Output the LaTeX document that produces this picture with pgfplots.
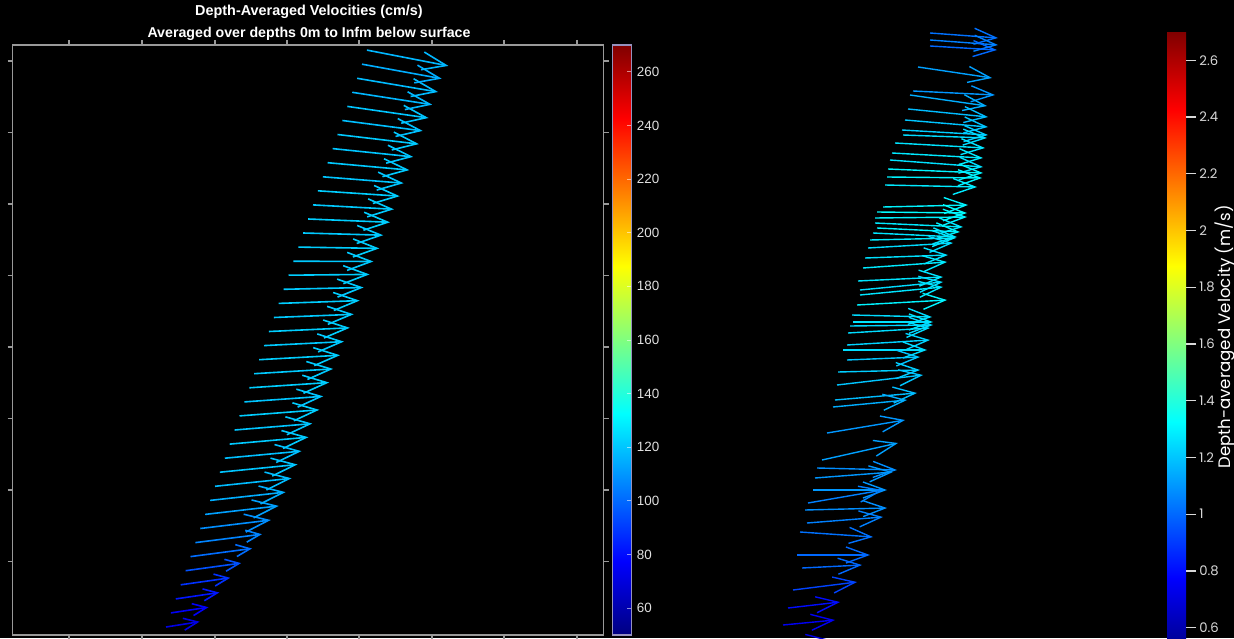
\documentclass[border=0pt]{standalone}
\usepackage{pgfplots}
\pgfplotsset{compat=1.18}
\usepackage{pgfplotstable}
\usetikzlibrary{arrows.meta}
\usepackage{fontspec}
\setmainfont{Liberation Sans}
\newfontfamily\poppins{Poppins}

% left panel: x y u v c (cm/s)
\pgfplotstableread{
x y u v c
152.0 7.0 33.6 5.3 72
156.9 21.1 37.6 5.7 76
161.8 35.1 43.5 6.4 82
166.7 49.2 49.5 7.0 88
171.6 63.3 55.5 7.6 95
176.5 77.4 61.5 8.1 101
181.4 91.4 66.5 8.4 106
}\leftlow
\pgfplotstableread{
x y u v c
186.3 105.5 70.5 8.5 108
191.2 119.6 73.5 8.5 112
196.1 133.6 75.5 8.3 115
201.0 147.7 76.6 8.0 118
205.9 161.8 77.6 7.7 120
210.8 175.8 76.7 7.1 119
215.7 189.9 78.7 6.9 121
220.6 204.0 77.7 6.4 120
225.5 218.1 79.8 6.1 122
230.4 232.1 78.8 5.6 120
235.3 246.2 79.8 5.3 122
240.2 260.3 78.9 4.8 121
245.1 274.3 80.9 4.5 122
250.0 288.4 79.9 4.0 121
254.9 302.5 80.9 3.7 122
259.8 316.5 79.9 3.2 121
264.7 330.6 81.0 2.8 122
269.6 344.7 80.0 1.8 121
274.5 358.8 81.0 0.8 122
279.4 372.8 80.0 -0.3 121
284.3 386.9 81.0 -1.3 122
289.2 401.0 80.0 -2.2 121
294.1 415.0 81.9 -3.3 122
299.0 429.1 80.9 -4.4 121
303.9 443.2 81.8 -5.4 122
308.8 457.2 80.8 -6.4 120
313.7 471.3 81.7 -7.4 121
318.6 485.4 80.6 -8.3 120
323.5 499.5 81.4 -9.6 121
328.4 513.5 80.3 -10.4 119
333.3 527.6 81.2 -11.6 120
338.2 541.7 80.0 -12.4 117
343.1 555.7 80.9 -13.7 118
348.0 569.8 79.7 -14.5 115
352.9 583.9 81.5 -15.8 117
}\lefthigh

% right panel: x y u v c (m/s)
\pgfplotstableread{
x y u v c
230 605 68 -5 1.02
230 598 68 -5 1.05
230 592 67 -4 1.00
218 571 74 -11 1.12
213 547 82 -4 1.10
210 543 77 -11 1.15
208 529 80 -8 1.18
205 518 83 -7 1.20
202 508 86 -5 1.22
203 503 84 -3 1.25
195 495 90 -5 1.27
192 485 91 -5 1.28
190 478 93 -7 1.26
188 469 95 -4 1.30
187 461 95 -1 1.30
185 453 92 -2 1.28
183 431 85 2 1.30
177 426 90 -1 1.32
175 420 92 1 1.30
175 415 88 -4 1.28
177 410 83 -4 1.30
173 405 84 -4 1.27
170 398 86 2 1.28
168 390 85 5 1.25
165 380 83 3 1.26
163 370 84 6 1.28
158 357 85 4 1.27
160 348 83 8 1.25
160 343 83 8 1.27
157 333 90 5 1.30
152 323 80 -2 1.25
153 316 80 0 1.27
150 312 83 1 1.24
148 305 82 5 1.25
147 293 83 5 1.23
143 288 84 0 1.25
147 278 73 3 1.20
138 266 82 2 1.22
137 253 86 10 1.20
135 238 82 7 1.18
133 231 74 7 1.15
127 205 78 13 1.10
122 178 76 17 1.12
117 170 80 -2 1.08
115 160 78 6 1.10
113 148 74 0 1.10
108 135 75 13 1.05
105 128 82 2 1.08
107 115 76 6 1.05
100 106 73 -5 1.02
97 83 73 0 1.00
102 70 60 3 1.00
93 48 64 8 0.92
88 30 52 6 0.80
83 13 52 5 0.75
80 -7 50 5 0.72
}\rightdata

\begin{document}
\begin{tikzpicture}
\fill[black] (0,0) rectangle (617pt,319pt);

% ---------------- left panel ----------------
\begin{axis}[
  at={(6.25pt,1.5pt)}, anchor=south west,
  scale only axis, width=295.5pt, height=295pt,
  xmin=-1.5, xmax=589.5, ymin=-1, ymax=589,
  xtick={55,128,201,273,345,418,490,563},
  ytick={72.5,144,215.5,287,358.5,430,501.5,573},
  xticklabels={}, yticklabels={},
  tick align=outside, major tick length=2.5pt,
  axis line style={draw=white!60!black, line width=0.75pt},
  tick style={draw=white!60!black, line width=0.75pt},
  colormap/jet,
  point meta min=50, point meta max=270,
  colorbar,
  colorbar style={
    scale only axis,
    width=9.5pt,
    at={(parent axis.north east)}, anchor=north west, xshift=-4.04pt,
    ytick={60,80,...,260}, ytick pos=right,
    tick align=inside, major tick length=2.5pt,
    axis line style={draw={rgb,255:red,150;green,145;blue,190}, line width=0.6pt},
    ytick style={draw=white, opacity=0.55, line width=0.5pt},
    yticklabel style={font=\fontsize{6.7}{7}\selectfont, text=white!88!black, inner sep=0pt, xshift=2.5pt},
    /pgf/number format/assume math mode=true,
  },
]
\addplot[
  quiver={u=\thisrow{u}, v=\thisrow{v}, colored=mapped color,
    every arrow/.append style={-{Straight Barb[length=7pt,width=6pt]}, line width=0.8pt}},
  point meta=\thisrow{c},
] table[x=x,y=y] {\leftlow};
\addplot[
  quiver={u=\thisrow{u}, v=\thisrow{v}, colored=mapped color,
    every arrow/.append style={-{Straight Barb[length=12pt,width=9pt]}, line width=0.8pt}},
  point meta=\thisrow{c},
] table[x=x,y=y] {\lefthigh};
\end{axis}

\node[anchor=base, text=white, font=\bfseries\fontsize{7.2}{8}\selectfont] at (154.5pt,311pt) {Depth-Averaged Velocities (cm/s)};
\node[anchor=base, text=white, font=\bfseries\fontsize{7.1}{8}\selectfont] at (154.5pt,300pt) {Averaged over depths 0m to Infm below surface};

% ---------------- right panel ----------------
\begin{axis}[
  at={(350pt,-10pt)}, anchor=south west,
  scale only axis, width=225pt, height=329pt,
  xmin=0, xmax=450, ymin=-20, ymax=638,
  hide axis, clip=false,
  colormap/jet,
  point meta min=0.5, point meta max=2.7,
  colorbar,
  colorbar style={
    scale only axis,
    width=9.5pt, height=312pt,
    at={(parent axis.north east)}, anchor=north west, xshift=-0.04pt, yshift=-16pt,
    ytick={0.6,0.8,1,1.2,1.4,1.6,1.8,2,2.2,2.4,2.6}, ytick pos=right,
    tick align=outside, major tick length=5pt,
    axis line style={draw=none},
    ytick style={draw=white!85!black, line width=0.6pt},
    yticklabel style={font=\poppins\fontsize{6.6}{7}\selectfont, text=white!85!black, inner sep=0pt, xshift=1.5pt},
    /pgf/number format/assume math mode=true,
  },
]
\addplot[
  quiver={u=\thisrow{u}, v=\thisrow{v}, colored=mapped color,
    every arrow/.append style={-{Straight Barb[length=11pt,width=8pt]}, line width=0.7pt}},
  point meta=\thisrow{c},
] table[x=x,y=y] {\rightdata};
\end{axis}

\node[rotate=90, anchor=base, text=white, font=\poppins\fontsize{8.3}{9}\selectfont] at (615.3pt,150.5pt) {Depth-averaged Velocity (m/s)};

\pgfresetboundingbox
\path[use as bounding box] (0,0) rectangle (617pt,319pt);
\end{tikzpicture}
\end{document}
